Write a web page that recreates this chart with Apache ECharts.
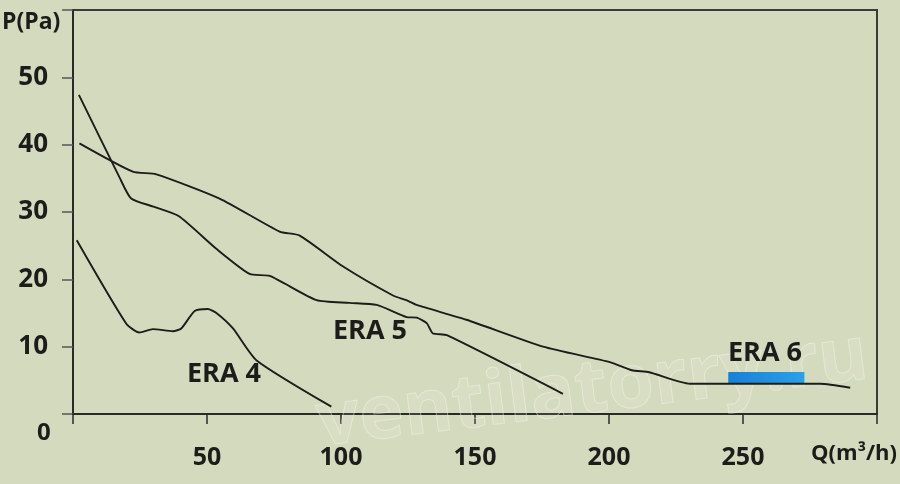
<!DOCTYPE html>
<html>
<head>
<meta charset="utf-8">
<script src="https://cdn.jsdelivr.net/npm/echarts@6/dist/echarts.min.js"></script>
<style>
html,body{margin:0;padding:0;background:#d4dabe;}
#c{width:900px;height:484px;}
</style>
</head>
<body>
<div id="c"></div>
<script>
// Data (Q in m3/h, P in Pa)
var era4 = [[1.4,25.8],[19.9,13.4],[24.8,12.1],[29.8,12.6],[37.3,12.3],[40.4,12.7],[45.4,15.3],[50.3,15.6],[53.5,15.0],[59.7,12.7],[68.4,8.0],[96.4,1.1]];
var era5 = [[2.2,47.4],[17.4,35.1],[21.7,32.0],[30,30.8],[39.4,29.4],[53.6,24.5],[65.9,20.8],[73.4,20.5],[90.9,16.9],[103.2,16.5],[113.3,16.2],[124.5,14.4],[128.3,14.3],[132,13.5],[134.2,12.0],[139.5,11.7],[182.8,3.0]];
var era6 = [[2.4,40.2],[22.3,36.0],[31.1,35.6],[54.7,32.0],[77.1,27.1],[84.6,26.5],[100.8,21.9],[119.4,17.6],[124.4,16.9],[128.2,16.2],[146.8,14.0],[175.4,10.0],[200.3,7.7],[208.5,6.5],[215,6.2],[230.2,4.5],[278.8,4.5],[290,3.9]];
var xTicks = [50,100,150,200,250];
var yTicks = [10,20,30,40,50];
var seriesNames = ['ERA 4','ERA 5','ERA 6'];
var era6Box = [[244.5,4.6],[272.9,6.25]];

var chart = echarts.init(document.getElementById('c'));
var lineStyle = {color:'#1c1c1a', width:1.9};
var font = 'Open Sans';
function mk(name, data){
  return {name:name, type:'line', data:data, smooth:0.2, symbol:'none', lineStyle:lineStyle, z:3};
}
var s6 = mk(seriesNames[2], era6);
s6.markArea = {silent:true, itemStyle:{color:{type:'linear',x:0,y:0,x2:1,y2:0,colorStops:[{offset:0,color:'#1a7fd6'},{offset:1,color:'#2aa0ea'}]}},
  data:[[{coord:era6Box[0]},{coord:era6Box[1]}]]};

chart.setOption({
  backgroundColor:'#d4dabe',
  animation:false,
  grid:{left:73,right:23,top:10,bottom:70,show:true,borderColor:'#3a3a38',borderWidth:2,backgroundColor:'transparent'},
  xAxis:{type:'value',min:0,max:300,interval:50,
    axisLine:{show:true,lineStyle:{color:'#2a2a28',width:2}},
    axisTick:{show:true,length:10,lineStyle:{color:'#2a2a28',width:1.5}},
    splitLine:{show:false},
    axisLabel:{margin:31,color:'#1c1c1a',fontFamily:font,fontWeight:'bold',fontSize:25,
      formatter:function(v){return xTicks.indexOf(v)>=0?String(v):'';}}},
  yAxis:{type:'value',min:0,max:60,interval:10,
    axisLine:{show:true,lineStyle:{color:'#2a2a28',width:2}},
    axisTick:{show:true,length:11,lineStyle:{color:'#555',width:1.5}},
    splitLine:{show:false},
    axisLabel:{margin:25,color:'#1c1c1a',fontFamily:font,fontWeight:'bold',fontSize:26,
      formatter:function(v){return yTicks.indexOf(v)>=0?String(v):'';}}},
  series:[mk(seriesNames[0],era4), mk(seriesNames[1],era5), s6],
  graphic:[
    {type:'text',x:322,y:462,rotation:0.123,z:1,silent:true,
     style:{text:'ventilatorry.ru',font:'bold 75px "Open Sans"',verticalAlign:'bottom',fill:'rgba(255,255,255,0.10)',stroke:'rgba(245,248,235,0.45)',lineWidth:1}},
    {type:'text',left:2,top:11,style:{text:'P(Pa)',font:'bold 23px "Open Sans"',fill:'#1c1c1a'}},
    {type:'text',left:37,top:421,style:{text:'0',font:'bold 24px "Open Sans"',fill:'#1c1c1a'}},
    {type:'text',right:3,top:443,style:{text:'Q(m³/h)',font:'bold 22px "Open Sans"',fill:'#1c1c1a'}},
    {type:'text',left:187,top:361,z:5,style:{text:seriesNames[0],font:'bold 27px "Open Sans"',fill:'#1c1c1a'}},
    {type:'text',left:333,top:318,z:5,style:{text:seriesNames[1],font:'bold 27px "Open Sans"',fill:'#1c1c1a'}},
    {type:'text',left:728,top:340,z:5,style:{text:seriesNames[2],font:'bold 27px "Open Sans"',fill:'#1c1c1a'}}
  ]
});
</script>
</body>
</html>
